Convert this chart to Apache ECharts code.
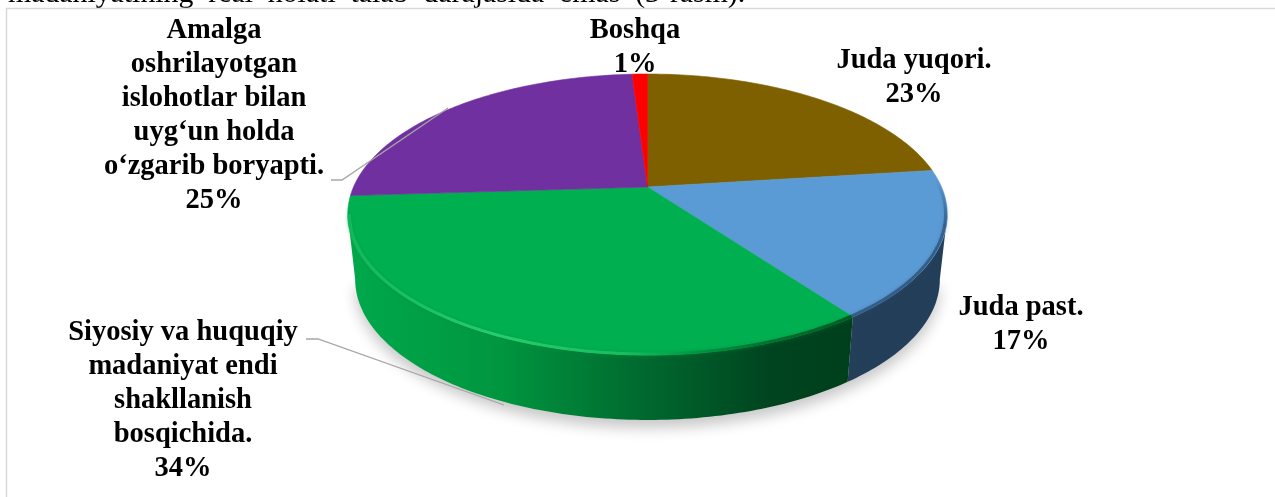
<!DOCTYPE html>
<html><head><meta charset="utf-8">
<style>html,body{margin:0;padding:0;background:#fff}#c{width:1275px;height:497px}</style>
<script src="https://cdn.jsdelivr.net/npm/echarts@6/dist/echarts.min.js"></script>
</head><body><div id="c"></div>
<script>
const categories = ["Juda yuqori.","Juda past.","Siyosiy va huquqiy\nmadaniyat endi\nshakllanish\nbosqichida.","Amalga\noshrilayotgan\nislohotlar bilan\nuyg\u2018un holda\no\u2018zgarib boryapti.","Boshqa"];
const values = [23,17,34,25,1];
const colors = ["#7f6000","#5b9bd5","#00b050","#7030a0","#ff0000"];
const headerText = "madaniyatining\u00a0\u00a0real\u00a0\u00a0holati\u00a0\u00a0talab\u00a0\u00a0darajasida\u00a0\u00a0emas\u00a0\u00a0(3-rasm).";

// layout of the tilted disc (perspective projection of a unit circle)
const apex = {x:647.5,y:187}, A = 135.1, B = 294, K = 0.1957, DEPTH = 65, SHRINK = 0.975;
const VIS_START = 101.3, VIS_END = 258.7;
const labelAnchor = [[914,44],[1021,291],[183,316],[214,14],[635,14]];
const leaders = {2:[[306,339],[318,339],[504,405]],3:[[331,180],[342,180],[448,108]]};
const FONT = '"Liberation Serif","Times New Roman",serif';

function topPt(deg){const t=deg*Math.PI/180,u=Math.sin(t),v=-Math.cos(t),w=1-K*v;
  return [apex.x+B*u/w, apex.y+A*v/w];}
function botPt(deg){const p=topPt(deg);return [apex.x+(p[0]-apex.x)*SHRINK,p[1]+DEPTH];}
function rimPt(deg){const p=topPt(deg);return [apex.x+(p[0]-apex.x)*0.994,apex.y+(p[1]-apex.y)*0.994];}
function arc(fn,a,b){const pts=[],n=Math.max(2,Math.ceil(Math.abs(b-a)));
  for(let i=0;i<=n;i++)pts.push(fn(a+(b-a)*i/n));return pts;}
const total=values.reduce((s,x)=>s+x,0);
const bounds=[];let acc=0;values.forEach(x=>{bounds.push([acc/total*360,(acc+x)/total*360]);acc+=x;});

function lg(x0,x1,stops){return {type:'linear',global:true,x:x0,y:0,x2:x1,y2:0,
  colorStops:stops.map(s=>({offset:s[0],color:s[1]}))};}
function vg(y0,y1,stops){return {type:'linear',global:true,x:0,y:y0,x2:0,y2:y1,
  colorStops:stops.map(s=>({offset:s[0],color:s[1]}))};}
const sideFill={
 1:lg(790,950,[[0,'#243f5a'],[1,'#233e58']]),
 2:lg(350,850,[[0,'#00a84c'],[0.3,'#00963f'],[0.58,'#006a2f'],[0.84,'#00441f'],[1,'#003f1c']])
};
const rimStroke={
 1:vg(180,270,[[0,'rgba(45,85,125,0)'],[0.5,'rgba(45,85,125,0.8)'],[1,'rgba(45,85,125,0.85)']]),
 2:lg(350,850,[[0,'#10b95a'],[0.3,'#27cc6d'],[0.55,'#18bd5f'],[0.68,'#009a44'],[0.84,'#00702f'],[1,'#005a25']])
};

function renderSide(params,api){
  const i=params.dataIndex,[a,b]=bounds[i];
  const s=Math.max(a,VIS_START),e=Math.min(b,VIS_END);
  if(e<=s)return {type:'group',children:[]};
  const pts=arc(topPt,s,e).concat(arc(botPt,e,s));
  return {type:'polygon',shape:{points:pts},style:{fill:sideFill[i]||colors[i]}};
}
function renderShadow(params,api){
  const pts=arc(botPt,VIS_START,VIS_END);
  return {type:'polygon',shape:{points:pts},style:{fill:'#dddddd',shadowBlur:14,shadowColor:'rgba(0,0,0,0.22)',shadowOffsetY:8,shadowOffsetX:0}};
}
function renderTop(params,api){
  const i=params.dataIndex,[a,b]=bounds[i];
  const pts=[[apex.x,apex.y]].concat(arc(topPt,a,b));
  return {type:'polygon',shape:{points:pts},style:{fill:colors[i],stroke:colors[i],lineWidth:0.6}};
}
function renderRim(params,api){
  const i=params.dataIndex,[a,b]=bounds[i];
  const s=Math.max(a,78),e=Math.min(b,VIS_END);
  if(!rimStroke[i]||e<=s)return {type:'group',children:[]};
  return {type:'polyline',shape:{points:arc(rimPt,s,e)},
    style:{fill:null,stroke:rimStroke[i],lineWidth:3,shadowBlur:4,shadowColor:i==1?'rgba(45,85,125,0.4)':'rgba(0,140,60,0.5)'}};
}
function renderLabel(params,api){
  const i=params.dataIndex,children=[];
  children.push({type:'text',x:labelAnchor[i][0],y:labelAnchor[i][1],
    style:{text:categories[i]+"\n"+values[i]+"%",font:'bold 28.5px '+FONT,fill:'#000',
      textAlign:'center',textVerticalAlign:'top',lineHeight:34}});
  if(leaders[i])children.push({type:'polyline',shape:{points:leaders[i]},
    style:{fill:null,stroke:'#a6a6a6',lineWidth:1.3}});
  return {type:'group',children};
}
const data=values.map(v=>[v]);
const chart=echarts.init(document.getElementById('c'),null,{renderer:'canvas'});
chart.setOption({
  animation:false,
  backgroundColor:'#fff',
  graphic:[
    {type:'text',x:8,y:-21,z:1,style:{text:headerText,font:'29.8px '+FONT,fill:'#000'}},
    {type:'polyline',z:1,shape:{points:[[6.5,497],[6.5,8.5],[1275,8.5]]},style:{fill:null,stroke:'#d9d9d9',lineWidth:1.5}}
  ],
  series:[
    {type:'custom',coordinateSystem:'none',silent:true,z:2,data:[[1]],renderItem:renderShadow},
    {type:'custom',coordinateSystem:'none',silent:true,z:3,data,renderItem:renderSide},
    {type:'custom',coordinateSystem:'none',silent:true,z:5,data,renderItem:renderTop},
    {type:'custom',coordinateSystem:'none',silent:true,z:6,data,renderItem:renderRim},
    {type:'custom',coordinateSystem:'none',silent:true,z:7,data,renderItem:renderLabel}
  ]
});
</script></body></html>
